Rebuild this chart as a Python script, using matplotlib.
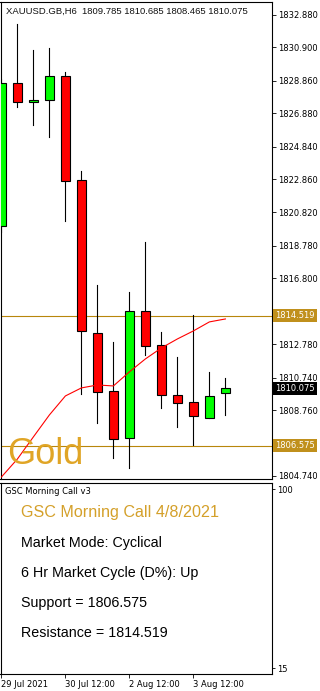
import matplotlib
matplotlib.use("Agg")
import matplotlib.pyplot as plt
from matplotlib.patches import Rectangle
from matplotlib.transforms import blended_transform_factory

plt.rcParams['font.family'] = ['Liberation Sans', 'DejaVu Sans']

# H6 candles
opens = [1820.00, 1828.73, 1827.57, 1827.69, 1829.16, 1822.81, 1813.47, 1809.92,
         1807.06, 1814.81, 1812.73, 1809.68, 1809.25, 1808.28, 1809.785]
highs = [1828.97, 1832.33, 1830.74, 1830.87, 1829.40, 1823.36, 1816.40, 1812.92,
         1815.97, 1819.02, 1813.53, 1812.00, 1814.56, 1811.08, 1810.685]
lows = [1819.60, 1827.26, 1826.16, 1825.43, 1820.30, 1809.74, 1807.97, 1805.84,
        1805.22, 1812.12, 1808.89, 1807.73, 1806.63, 1808.28, 1808.465]
closes = [1828.73, 1827.57, 1827.69, 1829.16, 1822.75, 1813.59, 1809.86, 1806.99,
          1814.81, 1812.67, 1809.68, 1809.19, 1808.40, 1809.62, 1810.075]
ma = [1804.67, 1805.77, 1807.12, 1808.46, 1809.62, 1810.11, 1810.29, 1810.23,
      1811.09, 1811.88, 1812.55, 1813.10, 1813.59, 1814.14, 1814.32]

support = 1806.575
resistance = 1814.519
last_price = 1810.075

price_ticks = [1832.880, 1830.900, 1828.860, 1826.880, 1824.840, 1822.860, 1820.820,
               1818.780, 1816.800, 1812.780, 1810.740, 1808.760, 1804.740]
date_ticks = [0, 4, 8, 12]
date_labels = ['29 Jul 2021', '30 Jul 12:00', '2 Aug 12:00', '3 Aug 12:00']

info_title = 'GSC Morning Call 4/8/2021'
info_lines = ['Market Mode: Cyclical',
              '6 Hr Market Cycle (D%): Up',
              'Support = %.3f' % support,
              'Resistance = %.3f' % resistance]

W, H = 320, 691
gold = '#b8860b'
small = ['DejaVu Sans']


def box(l, t, r, b):
    return [l / W, 1 - b / H, (r - l) / W, (b - t) / H]


fig = plt.figure(figsize=(W / 100, H / 100), dpi=100)
fig.patch.set_facecolor('white')

ax1 = fig.add_axes(box(0.5, 1.5, 271.5, 478.5))
ax2 = fig.add_axes(box(0.5, 482.5, 271.5, 673.5))

x0, x1 = -0.9 / 16, (271.5 - 1.4) / 16
for ax in (ax1, ax2):
    ax.set_xlim(x0, x1)
    for s in ax.spines.values():
        s.set_linewidth(0.8)
        s.set_color('black')

ax1.set_ylim(1804.58, 1833.70)

# candles
bw = 0.6
for i in range(len(opens)):
    o, h, l, c = opens[i], highs[i], lows[i], closes[i]
    ax1.plot([i, i], [l, h], color='black', lw=0.8, zorder=2)
    col = '#00ff00' if c >= o else '#ff0000'
    bottom = min(o, c)
    height = max(abs(c - o), 0.12)
    ax1.add_patch(Rectangle((i - bw / 2, bottom), bw, height, facecolor=col,
                            edgecolor='black', lw=0.8, zorder=3))

ax1.plot(range(len(ma)), ma, color='#ff0000', lw=0.8, zorder=4)
ax1.axhline(resistance, color=gold, lw=0.8, zorder=1)
ax1.axhline(support, color=gold, lw=0.8, zorder=1)

ax1.set_xticks([])
ax1.yaxis.tick_right()
ax1.set_yticks(price_ticks)
ax1.set_yticklabels(['%.3f' % v for v in price_ticks], family=small)
ax1.tick_params(axis='y', direction='out', length=3, width=0.6, pad=1.5,
                labelsize=6, colors='black')

# price tags on the right axis
trans = blended_transform_factory(ax1.transAxes, ax1.transData)
for val, fc in [(resistance, '#c0901c'), (support, '#c0901c'), (last_price, 'black')]:
    ax1.text(1.0150, val, '%.3f' % val, transform=trans, ha='left', va='center',
             fontsize=6, family=small, color='white', clip_on=False, zorder=6,
             bbox=dict(boxstyle='square,pad=0.25', fc=fc, ec='none'))

ax1.text(5 / 271, 1 - 12 / 477, 'XAUUSD.GB,H6  1809.785 1810.685 1808.465 1810.075',
         transform=ax1.transAxes, ha='left', va='baseline', fontsize=6.8,
         color='#111111')
ax1.text(7 / 271, 1 - 462 / 477, 'Gold', transform=ax1.transAxes, ha='left',
         va='baseline', fontsize=26, color='#e0a526', zorder=5)

# lower info panel
ax2.set_ylim(12.6, 103.3)
ax2.yaxis.tick_right()
ax2.set_yticks([100, 15])
ax2.set_yticklabels(['100', '15'], family=small)
ax2.tick_params(axis='y', direction='out', length=2, width=0.6, pad=2,
                labelsize=6, colors='black')
ax2.set_xticks(date_ticks)
ax2.set_xticklabels(date_labels, family=small)
for t in ax2.get_xticklabels():
    t.set_horizontalalignment('left')
ax2.tick_params(axis='x', direction='out', length=3, width=0.6, pad=2,
                labelsize=6, colors='black')

fig.text(5 / W, 1 - 494 / H, 'GSC Morning Call v3', fontsize=6, family=small,
         color='black', ha='left', va='baseline')
fig.text(21 / W, 1 - 517 / H, info_title, fontsize=11.6, color='#d4a02a',
         ha='left', va='baseline')
for k, line in enumerate(info_lines):
    fig.text(21 / W, 1 - (547 + 30 * k) / H, line, fontsize=10.3, color='black',
             ha='left', va='baseline')

fig.savefig('out.png', dpi=100)
